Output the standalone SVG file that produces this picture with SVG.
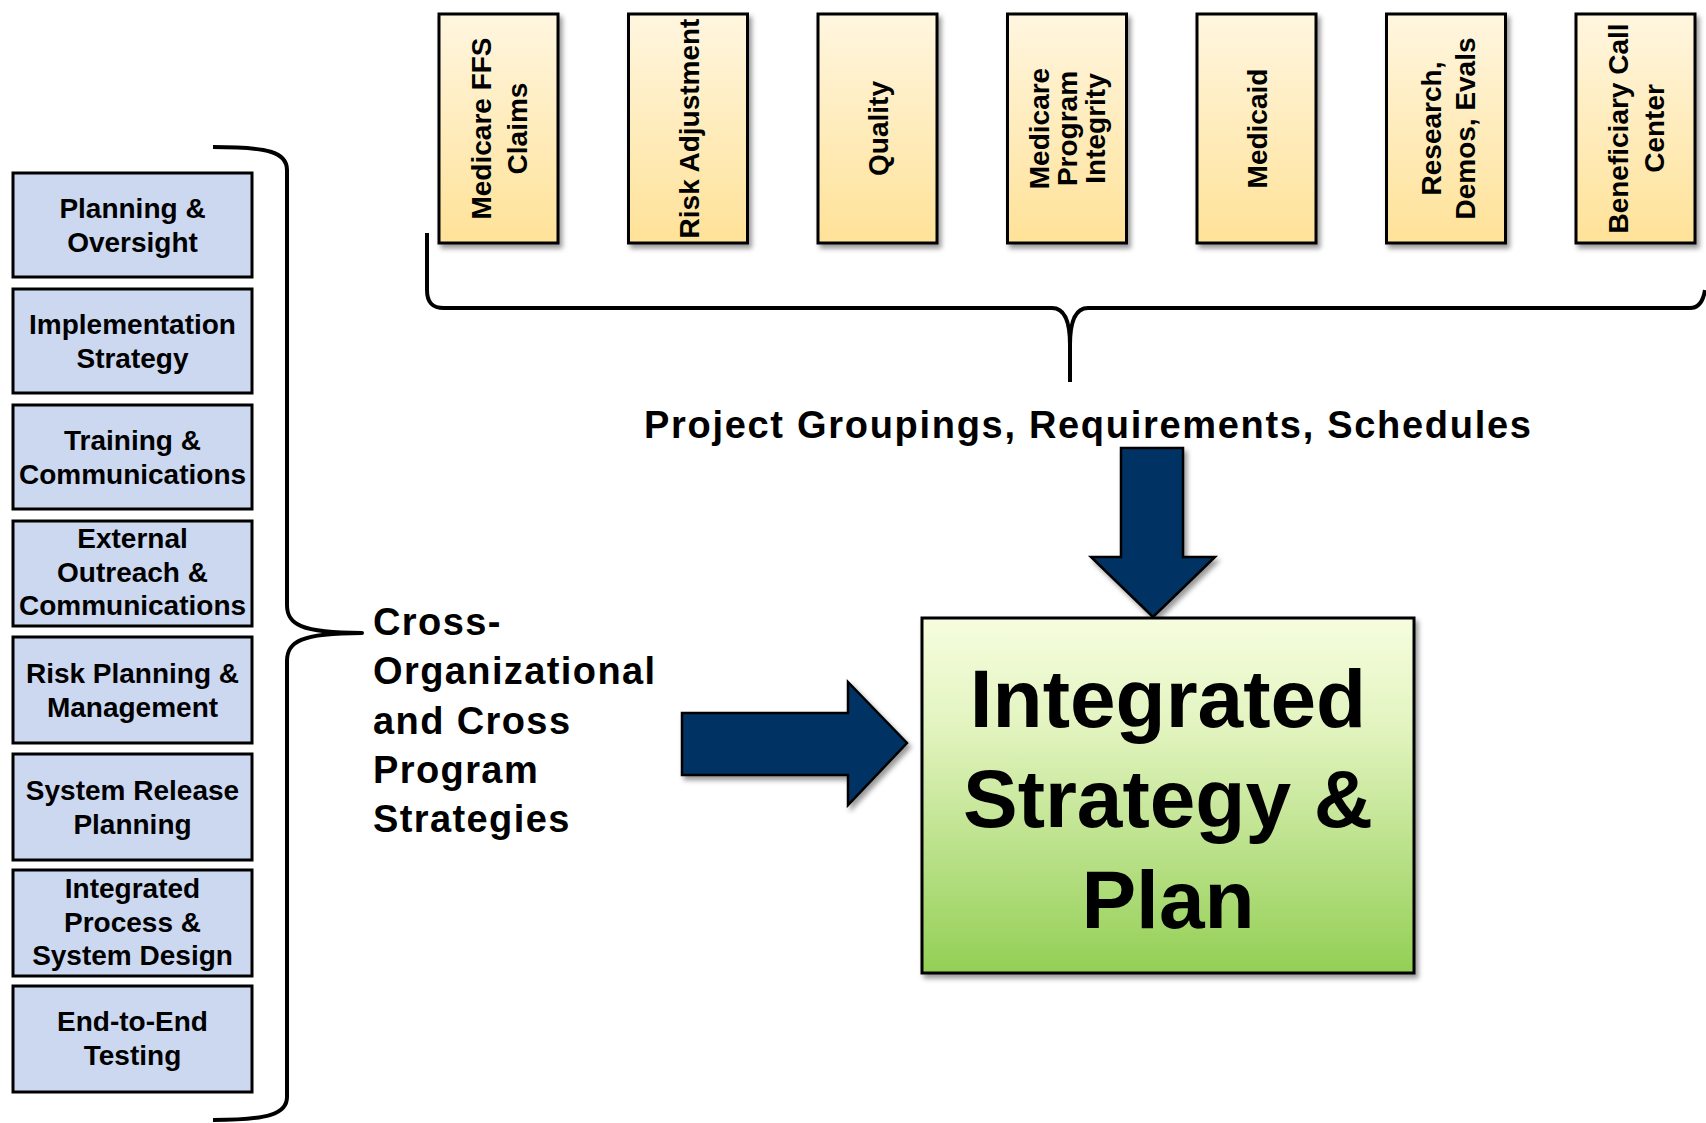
<svg xmlns="http://www.w3.org/2000/svg" width="1706" height="1123" viewBox="0 0 1706 1123">
<style>
.lb{fill:#CCD8F0;stroke:#000;stroke-width:3}
.tb{fill:url(#gY);stroke:#000;stroke-width:3}
.lt{font-family:"Liberation Sans",Arial,sans-serif;font-weight:bold;font-size:28px;fill:#000;text-anchor:middle}
.tt{font-family:"Liberation Sans",Arial,sans-serif;font-weight:bold;font-size:28px;fill:#000;text-anchor:middle}
.bt{font-family:"Liberation Sans",Arial,sans-serif;font-weight:bold;font-size:38px;fill:#000;letter-spacing:1.4px}
.big{font-family:"Liberation Sans",Arial,sans-serif;font-weight:bold;font-size:82px;fill:#000;text-anchor:middle}
.br{fill:none;stroke:#000;stroke-width:4;stroke-linejoin:round}
.ar{fill:#053263;stroke:#000;stroke-width:2.5}
</style>
<defs>
<linearGradient id="gY" x1="0" y1="0" x2="0" y2="1">
<stop offset="0" stop-color="#FFF6E0"/>
<stop offset="1" stop-color="#FFE298"/>
</linearGradient>
<linearGradient id="gG" x1="0" y1="0" x2="0" y2="1">
<stop offset="0" stop-color="#F6FDDF"/>
<stop offset="0.3" stop-color="#E3F4C0"/>
<stop offset="1" stop-color="#93CF55"/>
</linearGradient>
<filter id="sh" x="-10%" y="-10%" width="130%" height="130%">
<feDropShadow dx="3" dy="4" stdDeviation="2.5" flood-color="#000" flood-opacity="0.4"/>
</filter>
</defs>
<rect width="1706" height="1123" fill="#fff"/>

<g id="connectors">
<path class="br" d="M213,147 C268,147 287,152 287,170 L287,605 C287,624 300,633 362,633 C300,633 287,642 287,661 L287,1097 C287,1114 268,1120 213,1120"/>
<path class="br" d="M427,233 L427,290 C427,302 432,308 444,308 L1052,308 C1064,308 1070,320 1070,345 L1070,382 M1070,345 C1070,320 1076,308 1088,308 L1690,308 C1698,308 1703,302 1705,290"/>
<polygon id="arrow-down" class="ar" filter="url(#sh)" points="1121,448 1183,448 1183,557 1215,557 1153,617 1091,557 1121,557"/>
<polygon id="arrow-right" class="ar" filter="url(#sh)" points="682,713 848,713 848,682 907,743 848,805 848,775 682,775"/>
</g>

<g id="left-1"><rect class="lb" x="13" y="173" width="239" height="104"/><text class="lt" x="132.5" y="218">Planning &amp;</text><text class="lt" x="132.5" y="252">Oversight</text></g>
<g id="left-2"><rect class="lb" x="13" y="289" width="239" height="104"/><text class="lt" x="132.5" y="334">Implementation</text><text class="lt" x="132.5" y="368">Strategy</text></g>
<g id="left-3"><rect class="lb" x="13" y="405" width="239" height="104"/><text class="lt" x="132.5" y="450">Training &amp;</text><text class="lt" x="132.5" y="484">Communications</text></g>
<g id="left-4"><rect class="lb" x="13" y="521" width="239" height="105"/><text class="lt" x="132.5" y="548">External</text><text class="lt" x="132.5" y="582">Outreach &amp;</text><text class="lt" x="132.5" y="615">Communications</text></g>
<g id="left-5"><rect class="lb" x="13" y="637" width="239" height="106"/><text class="lt" x="132.5" y="683">Risk Planning &amp;</text><text class="lt" x="132.5" y="717">Management</text></g>
<g id="left-6"><rect class="lb" x="13" y="754" width="239" height="106"/><text class="lt" x="132.5" y="800">System Release</text><text class="lt" x="132.5" y="834">Planning</text></g>
<g id="left-7"><rect class="lb" x="13" y="870" width="239" height="106"/><text class="lt" x="132.5" y="898">Integrated</text><text class="lt" x="132.5" y="932">Process &amp;</text><text class="lt" x="132.5" y="965">System Design</text></g>
<g id="left-8"><rect class="lb" x="13" y="986" width="239" height="106"/><text class="lt" x="132.5" y="1031">End-to-End</text><text class="lt" x="132.5" y="1065">Testing</text></g>

<g id="top-1"><rect class="tb" filter="url(#sh)" x="439" y="14" width="119" height="229"/><g transform="translate(498.5,128.5) rotate(-90)"><text class="tt" x="0" y="-8">Medicare FFS</text><text class="tt" x="0" y="28">Claims</text></g></g>
<g id="top-2"><rect class="tb" filter="url(#sh)" x="628.5" y="14" width="119" height="229"/><g transform="translate(688,128.5) rotate(-90)"><text class="tt" x="0" y="11">Risk Adjustment</text></g></g>
<g id="top-3"><rect class="tb" filter="url(#sh)" x="818" y="14" width="119" height="229"/><g transform="translate(877.5,128.5) rotate(-90)"><text class="tt" x="0" y="10">Quality</text></g></g>
<g id="top-4"><rect class="tb" filter="url(#sh)" x="1007.5" y="14" width="119" height="229"/><g transform="translate(1067,128.5) rotate(-90)"><text class="tt" x="0" y="-18">Medicare</text><text class="tt" x="0" y="10">Program</text><text class="tt" x="0" y="38">Integrity</text></g></g>
<g id="top-5"><rect class="tb" filter="url(#sh)" x="1197" y="14" width="119" height="229"/><g transform="translate(1256.5,128.5) rotate(-90)"><text class="tt" x="0" y="10">Medicaid</text></g></g>
<g id="top-6"><rect class="tb" filter="url(#sh)" x="1386.5" y="14" width="119" height="229"/><g transform="translate(1446,128.5) rotate(-90)"><text class="tt" x="0" y="-5">Research,</text><text class="tt" x="0" y="29">Demos, Evals</text></g></g>
<g id="top-7"><rect class="tb" filter="url(#sh)" x="1576" y="14" width="119" height="229"/><g transform="translate(1635.5,128.5) rotate(-90)"><text class="tt" x="0" y="-8">Beneficiary Call</text><text class="tt" x="0" y="28">Center</text></g></g>

<g id="label-top"><text class="bt" x="644" y="438" style="letter-spacing:1.7px">Project Groupings, Requirements, Schedules</text></g>
<g id="label-left"><text class="bt" x="373" y="635">Cross-</text><text class="bt" x="373" y="684">Organizational</text><text class="bt" x="373" y="734">and Cross</text><text class="bt" x="373" y="783">Program</text><text class="bt" x="373" y="832">Strategies</text></g>

<g id="integrated-plan"><rect x="922" y="618" width="492" height="355" fill="url(#gG)" stroke="#000" stroke-width="3" filter="url(#sh)"/>
<text class="big" x="1168" y="727">Integrated</text><text class="big" x="1168" y="827">Strategy &amp;</text><text class="big" x="1168" y="928">Plan</text></g>
</svg>
